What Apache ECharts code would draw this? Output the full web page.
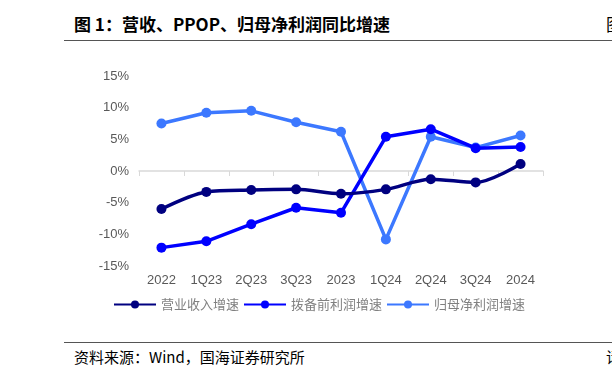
<!DOCTYPE html>
<html><head><meta charset="utf-8">
<script src="https://cdn.jsdelivr.net/npm/echarts@6/dist/echarts.min.js"></script>
<style>body{margin:0;background:#fff;overflow:hidden}#c{width:612px;height:381px;position:relative;overflow:hidden}
.t{position:absolute;left:74px;top:11px;font:bold 17px "Noto Sans CJK SC",sans-serif;color:#000;white-space:nowrap}
.s{position:absolute;left:74px;top:346px;font:15px "Noto Sans CJK SC",sans-serif;color:#000;white-space:nowrap}
.l1{position:absolute;left:64px;right:0;top:40px;border-top:1.5px solid #555}
.l2{position:absolute;left:64px;right:0;top:342px;border-top:1.5px solid #555}
</style></head><body>
<div id="c"></div>
<script>
const categories = ['2022','1Q23','2Q23','3Q23','2023','1Q24','2Q24','3Q24','2024'];
const revenue = [-6.0,-3.3,-3.0,-2.9,-3.6,-2.9,-1.3,-1.8,1.1];
const ppop = [-12.1,-11.1,-8.4,-5.8,-6.6,5.4,6.6,3.6,3.8];
const netProfit = [7.5,9.2,9.5,7.7,6.2,-10.8,5.4,3.7,5.6];
const seriesNames = ['营业收入增速','拨备前利润增速','归母净利润增速'];
const title = '图 1：营收、PPOP、归母净利润同比增速';
const source = '资料来源：Wind，国海证券研究所';

const c = document.getElementById('c');
c.innerHTML = '<div class="t">'+title+'</div><div class="t" style="left:606px;font-weight:normal">图</div><div class="l1"></div><div class="l2"></div><div class="s">'+source+'</div><div class="s" style="left:606px">请</div>';
const chartDiv = document.createElement('div');
chartDiv.style.cssText='position:absolute;left:0;top:0;width:612px;height:381px';
c.appendChild(chartDiv);
const chart = echarts.init(chartDiv);
const colors = ['#000080','#0000FF','#3C78FF'];
const datas = [revenue, ppop, netProfit];
chart.setOption({
  animation:false,
  color: colors,
  grid:{left:139,right:69,top:76,bottom:115,containLabel:false},
  legend:{top:293,left:108,itemGap:4,itemWidth:42,itemHeight:10,
    textStyle:{color:'#808080',fontSize:13,fontFamily:'"Noto Sans CJK SC",sans-serif'},
    data:seriesNames},
  xAxis:{type:'category',data:categories,boundaryGap:true,
    axisLine:{lineStyle:{color:'#D9D9D9',width:1.5}},
    axisTick:{show:true,lineStyle:{color:'#D9D9D9'},length:5},
    axisLabel:{color:'#595959',fontSize:13,fontFamily:'Liberation Sans, Arial',margin:8}},
  yAxis:{type:'value',min:-15,max:15,interval:5,
    axisLine:{show:false},axisTick:{show:false},splitLine:{show:false},
    axisLabel:{color:'#595959',fontSize:13,fontFamily:'Liberation Sans, Arial',formatter:'{value}%',margin:10}},
  series: datas.map((d,i)=>({name:seriesNames[i],type:'line',data:d,
    smooth: i===0 ? 0.3 : false,
    symbol:'circle',symbolSize:10,lineStyle:{width:3.5},z:5-i}))
});
</script></body></html>
